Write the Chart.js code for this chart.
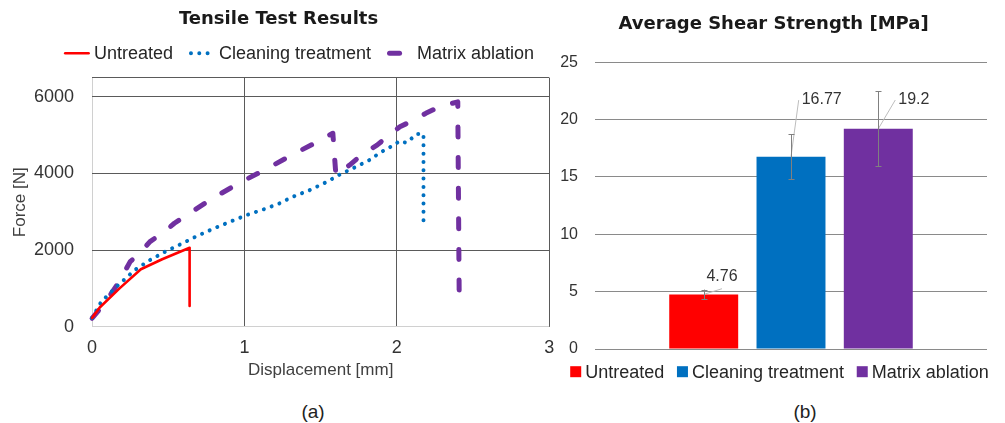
<!DOCTYPE html>
<html><head><meta charset="utf-8">
<script src="https://cdn.jsdelivr.net/npm/chart.js@4.4.1/dist/chart.umd.min.js"></script>
<style>
html,body{margin:0;padding:0;background:#fff;}
body{width:1005px;height:423px;position:relative;overflow:hidden;}
canvas{position:absolute;top:0;}
#c1{left:0;}
#c2{left:545px;}
.cap{position:absolute;top:411.7px;transform:translate(-50%,-50%);font:19px "Liberation Sans",Arial,sans-serif;color:#222;white-space:nowrap;}
</style></head><body>
<canvas id="c1" width="565" height="395"></canvas>
<canvas id="c2" width="460" height="395"></canvas>
<div class="cap" style="left:313px">(a)</div>
<div class="cap" style="left:805px">(b)</div>
<script>
// ---------- data ----------
const seriesNames = ['Untreated', 'Cleaning treatment', 'Matrix ablation'];

const untreatedDisp  = [0, 0.05, 0.18, 0.32, 0.46, 0.64, 0.64];
const untreatedForce = [230, 500, 1000, 1500, 1760, 2060, 540];

const cleaningDisp  = [0, 0.06, 0.17, 0.28, 0.38, 0.48, 0.59, 0.68, 0.79, 0.90, 1.01, 1.11, 1.22, 1.31, 1.42, 1.53, 1.63, 1.73, 1.83, 1.88, 1.98, 2.02, 2.06, 2.09, 2.13, 2.175, 2.175];
const cleaningForce = [230, 650, 1080, 1480, 1740, 1960, 2170, 2350, 2550, 2730, 2910, 3040, 3200, 3380, 3550, 3760, 3980, 4170, 4370, 4520, 4740, 4850, 4800, 4890, 5030, 5030, 2780];

const ablationDisp  = [0, 0.09, 0.18, 0.25, 0.30, 0.38, 0.46, 0.54, 0.62, 0.79, 0.97, 1.14, 1.31, 1.49, 1.58, 1.60, 1.69, 1.78, 1.87, 1.95, 2.02, 2.11, 2.19, 2.28, 2.40, 2.41];
const ablationForce = [220, 650, 1190, 1700, 1870, 2220, 2440, 2700, 2910, 3350, 3760, 4110, 4480, 4850, 5050, 3960, 4220, 4520, 4740, 5000, 5220, 5390, 5570, 5740, 5870, 430];

const dispTicks = [0, 1, 2, 3];
const forceTicks = [0, 2000, 4000, 6000];
const forceAxisMax = 6500;

const shearMeans  = [4.76, 16.77, 19.2];
const shearErrors = [0.42, 1.94, 3.27];
const shearTicks  = [0, 5, 10, 15, 20, 25];

// ---------- styles ----------
const seriesColors = ['#FF0000', '#0070C0', '#7030A0'];
const lineWidths = [2.6, 4, 5];
const lineDashes = [[], [0.01, 8.3], [10, 20.6]];
const labelOffsets = [
  {dx: 2.7, dy: -17.7, anchor: 'bottom'},
  {dx: 10.7, dy: -56.6, anchor: 'left'},
  {dx: 20, dy: -28.8, anchor: 'left'}
];
const FONT = 'Liberation Sans';
Chart.defaults.font.family = FONT;

// ---------- plugins ----------
const customLegend = {
  id: 'customLegend',
  afterDraw(chart, args, o) {
    const ctx = chart.ctx;
    ctx.save();
    ctx.font = o.font;
    ctx.textBaseline = 'middle';
    ctx.textAlign = 'left';
    const items = chart.data.datasets.map(ds => ({ds, w: ctx.measureText(ds.label).width}));
    const total = items.reduce((s, it) => s + o.sample + o.gap + it.w, 0) + o.spacing * (items.length - 1);
    let x = o.centerX - total / 2;
    const y = o.y;
    items.forEach(it => {
      const ds = it.ds;
      if (o.kind === 'line') {
        ctx.save();
        ctx.strokeStyle = ds.borderColor;
        ctx.lineWidth = ds.borderWidth;
        ctx.lineCap = 'round';
        ctx.setLineDash(ds.borderDash || []);
        const h = ds.borderWidth / 2;
        ctx.beginPath();
        ctx.moveTo(x + h, y);
        ctx.lineTo(x + o.sample - h, y);
        ctx.stroke();
        ctx.restore();
      } else {
        ctx.fillStyle = ds.backgroundColor;
        ctx.fillRect(x, y - o.box / 2, o.box, o.box);
      }
      x += o.sample + o.gap;
      ctx.fillStyle = o.color;
      ctx.fillText(ds.label, x, y + 1);
      x += it.w + o.spacing;
    });
    ctx.restore();
  }
};

const errorLabels = {
  id: 'errorLabels',
  afterDatasetsDraw(chart, args, o) {
    const ctx = chart.ctx;
    const yS = chart.scales.y;
    ctx.save();
    chart.data.datasets.forEach((ds, i) => {
      const bar = chart.getDatasetMeta(i).data[0];
      const v = ds.data[0];
      const e = o.errors[i];
      const off = o.offsets[i];
      const text = String(v);
      ctx.font = o.font;
      const w = ctx.measureText(text).width;
      const lx = bar.x + off.dx, ly = bar.y + off.dy;
      let ax, ay;
      if (off.anchor === 'bottom') { ax = lx + w / 2; ay = ly + 12; } else { ax = lx - 3; ay = ly; }
      // leader line
      ctx.strokeStyle = o.leaderColor;
      ctx.lineWidth = 1;
      ctx.beginPath();
      ctx.moveTo(ax, ay);
      ctx.lineTo(bar.x, bar.y);
      ctx.stroke();
      // error bar
      const x = Math.round(bar.x) + 0.5;
      const yT = yS.getPixelForValue(v + e), yB = yS.getPixelForValue(v - e);
      ctx.strokeStyle = o.errColor;
      ctx.beginPath();
      ctx.moveTo(x, yT); ctx.lineTo(x, yB);
      ctx.moveTo(x - o.cap, Math.round(yT) + 0.5); ctx.lineTo(x + o.cap, Math.round(yT) + 0.5);
      ctx.moveTo(x - o.cap, Math.round(yB) + 0.5); ctx.lineTo(x + o.cap, Math.round(yB) + 0.5);
      ctx.stroke();
      // label
      ctx.fillStyle = o.labelColor;
      ctx.textBaseline = 'middle';
      ctx.textAlign = 'left';
      ctx.fillText(text, lx, ly);
    });
    ctx.restore();
  }
};

// ---------- chart (a) ----------
const lineData = [
  [untreatedDisp, untreatedForce],
  [cleaningDisp, cleaningForce],
  [ablationDisp, ablationForce]
];
const gridCol = c => (c.tick && c.tick.value === 0) ? '#d0d0d0' : '#5a5a5a';

new Chart(document.getElementById('c1'), {
  type: 'line',
  data: {
    datasets: lineData.map((s, i) => ({
      label: seriesNames[i],
      data: s[0].map((x, k) => ({x, y: s[1][k]})),
      borderColor: seriesColors[i],
      backgroundColor: seriesColors[i],
      borderWidth: lineWidths[i],
      borderDash: lineDashes[i],
      borderCapStyle: 'round',
      borderJoinStyle: 'round',
      pointRadius: 0,
      tension: 0,
      fill: false,
      clip: false
    }))
  },
  options: {
    responsive: false,
    animation: false,
    layout: {padding: {left: 5.7, right: 13.6, top: 0, bottom: 14.8}},
    plugins: {
      legend: {display: false},
      tooltip: {enabled: false},
      title: {
        display: true, text: 'Tensile Test Results', color: '#1a1a1a',
        font: {family: 'DejaVu Sans', size: 18, weight: 'bold'},
        padding: {top: 9, bottom: 47.1}
      },
      customLegend: {kind: 'line', font: '18px "Liberation Sans"', color: '#262626',
        sample: 26, gap: 4, spacing: 16, centerX: 299, y: 53.3}
    },
    scales: {
      x: {
        type: 'linear', min: dispTicks[0], max: dispTicks[dispTicks.length - 1],
        afterBuildTicks: a => { a.ticks = dispTicks.map(v => ({value: v})); },
        afterFit: a => { a.height = 53.5; },
        ticks: {padding: 10.8, font: {size: 18}, color: '#333', callback: v => String(v)},
        grid: {drawTicks: false, color: gridCol, lineWidth: 1},
        border: {display: false},
        title: {display: true, text: 'Displacement [mm]', color: '#404040',
          font: {size: 17}, padding: {top: 0.7, bottom: 0}}
      },
      y: {
        type: 'linear', min: 0, max: forceAxisMax,
        afterBuildTicks: a => { a.ticks = forceTicks.concat([forceAxisMax]).map(v => ({value: v})); },
        afterFit: a => { a.width = 86.4; },
        ticks: {padding: 18, font: {size: 18}, color: '#333',
          callback: v => forceTicks.includes(v) ? String(v) : ''},
        grid: {drawTicks: false, color: gridCol, lineWidth: 1},
        border: {display: false},
        title: {display: true, text: 'Force [N]', color: '#404040',
          font: {size: 17}, padding: {top: 4, bottom: 4}}
      }
    }
  },
  plugins: [customLegend]
});

// ---------- chart (b) ----------
new Chart(document.getElementById('c2'), {
  type: 'bar',
  data: {
    labels: [''],
    datasets: seriesNames.map((n, i) => ({
      label: n,
      data: [shearMeans[i]],
      backgroundColor: seriesColors[i],
      borderWidth: 0,
      categoryPercentage: 0.668,
      barPercentage: 0.79
    }))
  },
  options: {
    responsive: false,
    animation: false,
    layout: {padding: {left: 15.2, right: 18, top: 0, bottom: 46}},
    plugins: {
      legend: {display: false},
      tooltip: {enabled: false},
      title: {
        display: true, text: 'Average Shear Strength [MPa]', color: '#1a1a1a',
        font: {family: 'DejaVu Sans', size: 18, weight: 'bold'},
        padding: {top: 13.7, bottom: 27}
      },
      customLegend: {kind: 'box', font: '18px "Liberation Sans"', color: '#262626',
        sample: 11, box: 11, gap: 4, spacing: 12.7, centerX: 234.5, y: 371.7},
      errorLabels: {errors: shearErrors, offsets: labelOffsets, font: '16px "Liberation Sans"',
        labelColor: '#333', leaderColor: '#bdbdbd', errColor: '#808080', cap: 3}
    },
    scales: {
      x: {display: false},
      y: {
        min: shearTicks[0], max: shearTicks[shearTicks.length - 1],
        afterBuildTicks: a => { a.ticks = shearTicks.map(v => ({value: v})); },
        afterFit: a => { a.width = 34.8; },
        ticks: {padding: 17, font: {size: 16}, color: '#333'},
        grid: {drawTicks: false, color: '#8a8a8a', lineWidth: 1},
        border: {display: false}
      }
    }
  },
  plugins: [errorLabels, customLegend]
});
</script>
</body></html>
